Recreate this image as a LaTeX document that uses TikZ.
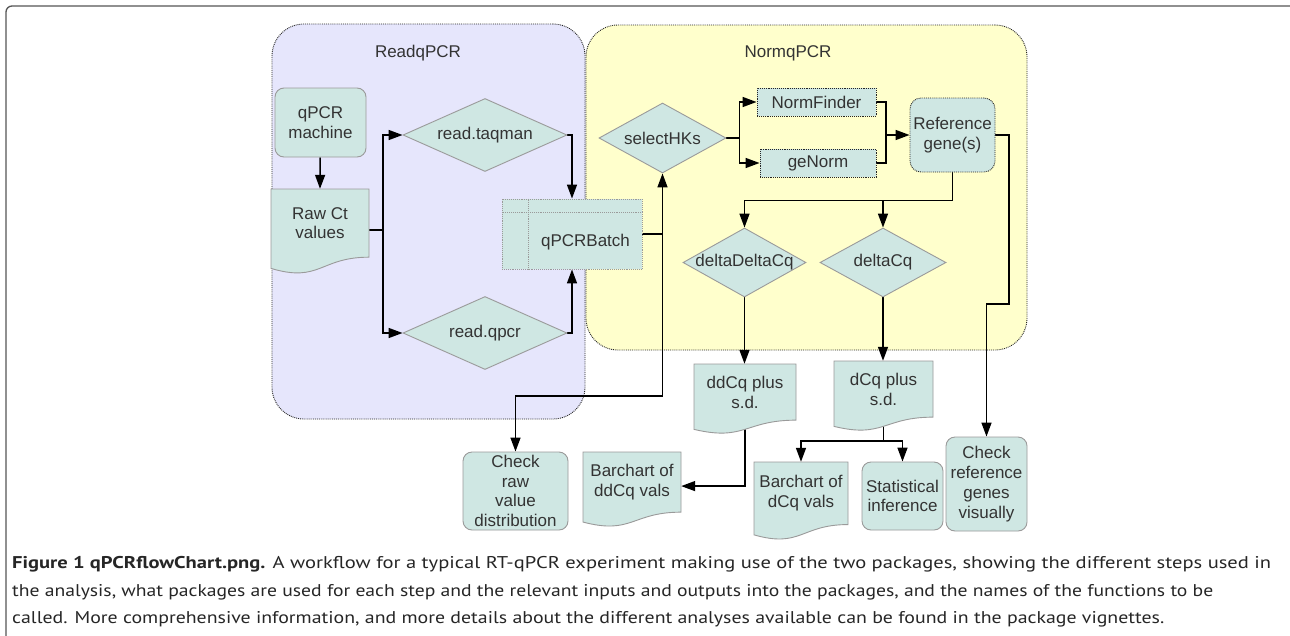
\documentclass[tikz,border=0pt]{standalone}
\usepackage{fontspec}
\usepackage{graphicx}
\setmainfont{Liberation Sans}
\newfontfamily\capfont{PT Sans}
\usetikzlibrary{shapes.geometric,arrows.meta,calc}
\definecolor{shapefill}{HTML}{CFE7E3}
\definecolor{shapeline}{HTML}{9A9A9A}
\definecolor{lavbg}{HTML}{E6E6FC}
\definecolor{yelbg}{HTML}{FFFFCC}
\definecolor{txtc}{HTML}{333333}
\definecolor{framec}{HTML}{555555}
\pgfdeclarelayer{bgwhite}
\pgfdeclarelayer{cont}
\pgfdeclarelayer{conn}
\pgfsetlayers{bgwhite,cont,conn,main}
\newcommand\docbox[6]{%
  \filldraw[docshape] (#2,#3) -- ({#2+#4},#3) -- ({#2+#4},{#3+0.802*#5})
    .. controls ({#2+0.5*#4},{#3+0.802*#5}) and ({#2+0.5*#4},{#3+1.107*#5}) .. (#2,{#3+0.934*#5}) -- cycle;
  \node[doctext, minimum width=#4, minimum height={0.802*#5}] (#1) at ({#2+0.5*#4},{#3+0.401*#5}) {#6};
}
\begin{document}
\begin{tikzpicture}[x=1pt,y=-1pt,
  every node/.style={font=\fontsize{17}{19.8}\selectfont, text=txtc, align=center},
  procbox/.style={draw=shapeline, fill=shapefill, line width=0.9pt, rounded corners=9pt, inner sep=0pt},
  refbox/.style={draw=black!85, densely dotted, fill=shapefill, line width=0.9pt, rounded corners=11pt, inner sep=0pt},
  databox/.style={draw=black!85, densely dotted, fill=shapefill, line width=0.9pt, inner sep=0pt},
  batchbox/.style={draw=shapeline, densely dotted, fill=shapefill, line width=0.9pt, inner sep=0pt},
  decbox/.style={diamond, draw=shapeline, fill=shapefill, line width=0.9pt, inner sep=0pt},
  docshape/.style={draw=shapeline, fill=shapefill, line width=0.9pt},
  doctext/.style={inner sep=0pt},
  container/.style={draw=black!85, densely dotted, line width=0.9pt, rounded corners=32pt, inner sep=0pt},
  pkgtitle/.style={inner sep=0pt},
  conline/.style={line width=1.5pt, draw=black},
  arr/.style={conline, -{Triangle[length=14pt,width=10pt]}},
  capt/.style={font=\capfont\fontsize{17}{20}\selectfont, text=black!85, inner sep=0pt, anchor=base west, align=left}
]
\useasboundingbox (0,0) rectangle (1290,635);
\begin{pgfonlayer}{bgwhite}
\fill[white] (0,0) rectangle (1290,635);
\end{pgfonlayer}
\draw[framec, line width=1.3pt, rounded corners=6pt] (6,645) -- (6,6) -- (1300,6);

% containers
\begin{pgfonlayer}{cont}
\node[container, fill=lavbg, minimum width=313, minimum height=395] (readpkg) at (428.5,221.5) {};
\node[container, fill=yelbg, minimum width=441, minimum height=325] (normpkg) at (806.5,187.5) {};
\end{pgfonlayer}
\node[pkgtitle] (readtitle) at (418,53) {ReadqPCR};
\node[pkgtitle] (normtitle) at (788,53) {NormqPCR};

% shapes
\node[procbox, minimum width=91, minimum height=69] (machine) at (320.5,122.5) {qPCR\\machine};
\docbox{rawct}{271}{189}{98}{85}{Raw Ct\\values}
\node[decbox, minimum width=164, minimum height=73] (taqman) at (485,135) {\makebox[0pt]{read.taqman}};
\node[decbox, minimum width=164, minimum height=73] (qpcr) at (485,333) {\makebox[0pt]{read.qpcr}};
\node[batchbox, minimum width=140, minimum height=70] (batch) at (572,234) {};
\draw[shapeline, densely dotted, line width=0.9pt] ([yshift=-14pt]batch.north west) -- ([yshift=-14pt]batch.north east);
\draw[shapeline, densely dotted, line width=0.9pt] ([xshift=27pt]batch.north west) -- ([xshift=27pt]batch.south west);
\node[inner sep=0pt] (batchlbl) at (585.5,242) {qPCRBatch};
\node[decbox, minimum width=127, minimum height=70] (selhk) at (662.5,138) {\makebox[0pt]{selectHKs}};
\node[databox, minimum width=119, minimum height=28] (normfinder) at (816.5,102) {NormFinder};
\node[databox, minimum width=116, minimum height=28] (genorm) at (818,163) {geNorm};
\node[refbox, minimum width=85, minimum height=74] (refgene) at (952.5,135) {Reference\\gene(s)};
\node[decbox, minimum width=123, minimum height=69] (ddct) at (744.5,262.5) {\makebox[0pt]{deltaDeltaCq}};
\node[decbox, minimum width=126, minimum height=69] (dct) at (883,262.5) {\makebox[0pt]{deltaCq}};
\docbox{ddcqsd}{694}{364}{102}{70}{ddCq plus\\s.d.}
\docbox{dcqsd}{834}{361}{99}{70}{dCq plus\\s.d.}
\node[procbox, minimum width=105, minimum height=78] (checkraw) at (515.5,491) {Check\\raw\\value\\distribution};
\docbox{barddcq}{583}{452}{98}{75}{Barchart of\\ddCq vals}
\docbox{bardcq}{754}{462}{94}{78}{Barchart of\\dCq vals}
\node[procbox, minimum width=81, minimum height=68] (stat) at (902.5,496) {Statistical\\inference};
\node[procbox, minimum width=81, minimum height=94] (checkref) at (986.5,484) {Check\\reference\\genes\\visually};

% connectors
\begin{pgfonlayer}{conn}
\draw[arr] (machine) -- (rawct.north);
\draw[conline] ([yshift=-7pt]rawct.east) -- ++(14,0) coordinate (j1);
\draw[arr] (j1) |- (taqman.west);
\draw[arr] (j1) |- (qpcr.west);
\draw[arr] (taqman.east) -| (batch.north);
\draw[arr] (qpcr.east) -| (batch.south);
\coordinate (j2) at (662.5,396);
\draw[conline] (batch.east) -- (batch.east -| j2);
\draw[arr] (j2) -- (selhk.south);
\draw[arr] (j2) -| (checkraw.north);
\draw[conline] (selhk.east) -- ++(13,0) coordinate (j3);
\draw[arr] (j3) |- (normfinder.west);
\draw[arr] (j3) |- (genorm.west);
\coordinate (j4) at (886,135);
\draw[conline] (normfinder.east) -| (j4);
\draw[conline] (genorm.east) -| (j4);
\draw[arr] (j4) -- (refgene.west);
\coordinate (w1) at (1009,304);
\draw[arr] (refgene.east) -| (w1) -| (checkref.north);
\draw[arr] (refgene.south) -- ++(0,28) coordinate (w2) -| (ddct.north);
\draw[arr] (w2 -| dct.north) -- (dct.north);
\draw[arr] (ddct.south) -- (ddct.south |- ddcqsd.north);
\draw[arr] (dct.south) -- (dct.south |- dcqsd.north);
\draw[arr] (ddcqsd.center) |- ([yshift=-4pt]barddcq.east);
\coordinate (j5) at (883.5,441);
\draw[conline] (dcqsd.center) -- (j5);
\draw[arr] (j5) -| (bardcq.north);
\draw[arr] (j5) -| (stat.north);
\end{pgfonlayer}

% caption
\node[capt] (cap1) at (12,568) {\resizebox{1259pt}{\height}{\textbf{Figure 1 qPCRflowChart.png.} A workflow for a typical RT-qPCR experiment making use of the two packages, showing the different steps used in}};
\node[capt] (cap2) at (12,596) {\resizebox{1201pt}{\height}{the analysis, what packages are used for each step and the relevant inputs and outputs into the packages, and the names of the functions to be}};
\node[capt] (cap3) at (12,623) {\resizebox{1152pt}{\height}{called. More comprehensive information, and more details about the different analyses available can be found in the package vignettes.}};
\end{tikzpicture}
\end{document}
